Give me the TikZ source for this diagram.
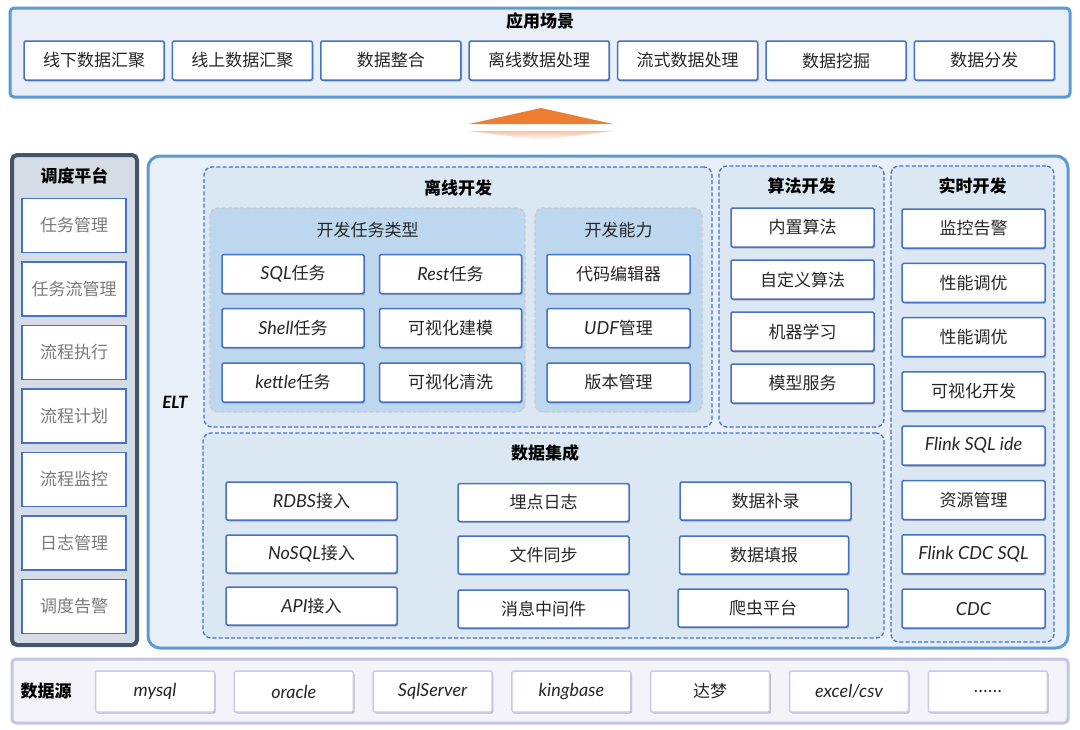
\documentclass[tikz,border=0pt]{standalone}
\usepackage{fontspec}
\setmainfont{Noto Sans CJK SC}
\newfontfamily\latfont{Lato}
\usetikzlibrary{shadows,positioning}
\definecolor{panelline}{HTML}{5B9BD5}
\definecolor{panelwash}{HTML}{E8EFF8}
\definecolor{boxline}{HTML}{4472C4}
\definecolor{grpwash}{HTML}{DCE7F4}
\definecolor{subwash}{HTML}{BDD7EE}
\definecolor{subline}{HTML}{C6CACF}
\definecolor{sideline}{HTML}{44546A}
\definecolor{sidewash}{HTML}{D6DCE5}
\definecolor{srcline}{HTML}{C5C5E4}
\definecolor{srcwash}{HTML}{F3F3F9}
\definecolor{srcbox}{HTML}{C9C9E8}
\definecolor{arrorange}{HTML}{ED7D31}
\definecolor{txt}{HTML}{262626}
\newcommand\enf[1]{{\latfont\itshape\fontsize{18}{20}\selectfont #1}}
\tikzset{panel/.style={draw=panelline,line width=3pt,fill=panelwash,rounded corners=4pt,inner sep=0pt},
 cell/.style={draw=boxline,line width=1.5pt,fill=white,rounded corners=1.5pt,text=txt,font=\fontsize{17}{19}\selectfont,inner sep=0pt,minimum height=39pt,drop shadow={shadow xshift=1.2pt,shadow yshift=-1.6pt,opacity=.35,fill=black!70}},
 sidecell/.style={draw=boxline,line width=1.5pt,fill=white,text=black!52,font=\fontsize{17}{19}\selectfont,minimum width=104pt,minimum height=54pt,inner sep=0pt},
 srccell/.style={draw=srcbox,line width=1.5pt,fill=white,rounded corners=1.5pt,text=txt,font=\fontsize{17}{19}\selectfont,minimum width=119pt,minimum height=41pt,inner sep=0pt,drop shadow={shadow xshift=1.2pt,shadow yshift=-1.6pt,opacity=.35,fill=black!70}},
 grp/.style={draw=boxline,line width=1.3pt,dash pattern=on 4pt off 2.2pt,fill=grpwash,rounded corners=8pt,inner sep=0pt},
 subgrp/.style={draw=subline,line width=1.3pt,dash pattern=on 4pt off 2.2pt,fill=subwash,rounded corners=8pt,inner sep=0pt},
 ttl/.style={font=\bfseries\fontsize{17}{19}\selectfont,text=black},
 subttl/.style={font=\fontsize{17}{19}\selectfont,text=txt}}
\begin{document}
\begin{tikzpicture}[x=1pt,y=-1pt]
\useasboundingbox (0,0) rectangle (1080,729);
% application layer
\node[panel,minimum width=1060pt,minimum height=89pt] (app) at (540,52.5) {};
\node[ttl] (appt) at (540,21) {应用场景};
\node[cell,minimum width=140pt] (a1) at (94,60.5) {线下数据汇聚};
\node[cell,minimum width=140pt] (a2) at (242.4,60.5) {线上数据汇聚};
\node[cell,minimum width=140pt] (a3) at (390.8,60.5) {数据整合};
\node[cell,minimum width=140pt] (a4) at (539.2,60.5) {离线数据处理};
\node[cell,minimum width=140pt] (a5) at (687.6,60.5) {流式数据处理};
\node[cell,minimum width=140pt] (a6) at (836,60.5) {数据挖掘};
\node[cell,minimum width=140pt] (a7) at (984.4,60.5) {数据分发};
% orange arrow
\fill[arrorange] (469,124) -- (541,108) -- (613,124) -- cycle;
\shade[top color=arrorange!45,bottom color=white] (469,131) -- (613,131) -- (541,140) -- cycle;
% scheduling platform
\node[draw=sideline,line width=4pt,fill=sidewash,rounded corners=5pt,minimum width=125pt,minimum height=490pt] (sched) at (74.5,400) {};
\node[ttl] (schedt) at (74.5,176) {调度平台};
\node[sidecell] (s1) at (74,225.5) {任务管理};
\node[sidecell] (s2) at (74,289) {任务流管理};
\node[sidecell] (s3) at (74,352.5) {流程执行};
\node[sidecell] (s4) at (74,416) {流程计划};
\node[sidecell] (s5) at (74,479.5) {流程监控};
\node[sidecell] (s6) at (74,543) {日志管理};
\node[sidecell] (s7) at (74,606.5) {调度告警};
% ELT platform
\node[panel,rounded corners=12pt,minimum width=920pt,minimum height=492pt] (elt) at (608,402) {};
\node[font=\latfont\bfseries\itshape\fontsize{17}{19}\selectfont] (eltt) at (175,402) {ELT};
% offline development
\node[grp,minimum width=508pt,minimum height=260pt] (off) at (458,297) {};
\node[ttl] (offt) at (458,188) {离线开发};
\node[subgrp,minimum width=315pt,minimum height=204pt] (kind) at (367.5,310) {};
\node[subttl] (kindt) at (367.5,230) {开发任务类型};
\node[subgrp,minimum width=167pt,minimum height=204pt] (abil) at (618.5,310) {};
\node[subttl] (abilt) at (618.5,230) {开发能力};
\node[cell,minimum width=142pt] (k1) at (293,274) {\enf{SQL}任务};
\node[cell,minimum width=142pt] (k2) at (450.5,274) {\enf{Rest}任务};
\node[cell,minimum width=142pt] (k3) at (293,328) {\enf{Shell}任务};
\node[cell,minimum width=142pt] (k4) at (450.5,328) {可视化建模};
\node[cell,minimum width=142pt] (k5) at (293,382.5) {\enf{kettle}任务};
\node[cell,minimum width=142pt] (k6) at (450.5,382.5) {可视化清洗};
\node[cell,minimum width=143pt] (b1) at (618.5,274) {代码编辑器};
\node[cell,minimum width=143pt] (b2) at (618.5,328) {\enf{UDF}管理};
\node[cell,minimum width=143pt] (b3) at (618.5,382.5) {版本管理};
% algorithm development
\node[grp,minimum width=165pt,minimum height=261pt] (alg) at (801.5,296.5) {};
\node[ttl] (algt) at (801.5,186) {算法开发};
\node[cell,minimum width=143pt] (g1) at (802.5,227.5) {内置算法};
\node[cell,minimum width=143pt] (g2) at (802.5,279.5) {自定义算法};
\node[cell,minimum width=143pt] (g3) at (802.5,331.5) {机器学习};
\node[cell,minimum width=143pt] (g4) at (802.5,383.5) {模型服务};
% realtime development
\node[grp,minimum width=163pt,minimum height=476pt] (rt) at (972.5,404) {};
\node[ttl] (rtt) at (972.5,186) {实时开发};
\node[cell,minimum width=143pt] (r1) at (973.5,228.5) {监控告警};
\node[cell,minimum width=143pt] (r2) at (973.5,282.8) {性能调优};
\node[cell,minimum width=143pt] (r3) at (973.5,337.1) {性能调优};
\node[cell,minimum width=143pt] (r4) at (973.5,391.4) {可视化开发};
\node[cell,minimum width=143pt] (r5) at (973.5,445.7) {\enf{Flink SQL ide}};
\node[cell,minimum width=143pt] (r6) at (973.5,500) {资源管理};
\node[cell,minimum width=143pt] (r7) at (973.5,554.3) {\enf{Flink CDC SQL}};
\node[cell,minimum width=143pt] (r8) at (973.5,608.6) {\enf{CDC}};
% data integration
\node[grp,minimum width=681pt,minimum height=205pt] (integ) at (543.5,535.5) {};
\node[ttl] (integt) at (545,453) {数据集成};
\node[cell,minimum width=171pt,minimum height=38pt] (i1) at (311.5,501) {\enf{RDBS}接入};
\node[cell,minimum width=171pt,minimum height=38pt] (i2) at (311.5,554) {\enf{NoSQL}接入};
\node[cell,minimum width=171pt,minimum height=38pt] (i3) at (311.5,606) {\enf{API}接入};
\node[cell,minimum width=171pt,minimum height=38pt] (i4) at (543.5,502.5) {埋点日志};
\node[cell,minimum width=171pt,minimum height=38pt] (i5) at (543.5,555) {文件同步};
\node[cell,minimum width=171pt,minimum height=38pt] (i6) at (543.5,609) {消息中间件};
\node[cell,minimum width=171pt,minimum height=38pt] (i7) at (765.5,501) {数据补录};
\node[cell,minimum width=169pt,minimum height=38pt] (i8) at (764,555) {数据填报};
\node[cell,minimum width=170pt,minimum height=38pt] (i9) at (763,608) {爬虫平台};
% data sources
\node[draw=srcline,line width=3pt,fill=srcwash,rounded corners=4pt,minimum width=1056pt,minimum height=64pt,inner sep=0pt] (src) at (540,691) {};
\node[ttl] (srct) at (46,691) {数据源};
\node[srccell] (d1) at (155,691.5) {\enf{mysql}};
\node[srccell] (d2) at (293.8,691.5) {\enf{oracle}};
\node[srccell] (d3) at (432.6,691.5) {\enf{SqlServer}};
\node[srccell] (d4) at (571.4,691.5) {\enf{kingbase}};
\node[srccell] (d5) at (710.2,691.5) {达梦};
\node[srccell] (d6) at (849,691.5) {\enf{excel/csv}};
\node[srccell] (d7) at (987.8,691.5) {......};
\end{tikzpicture}
\end{document}
